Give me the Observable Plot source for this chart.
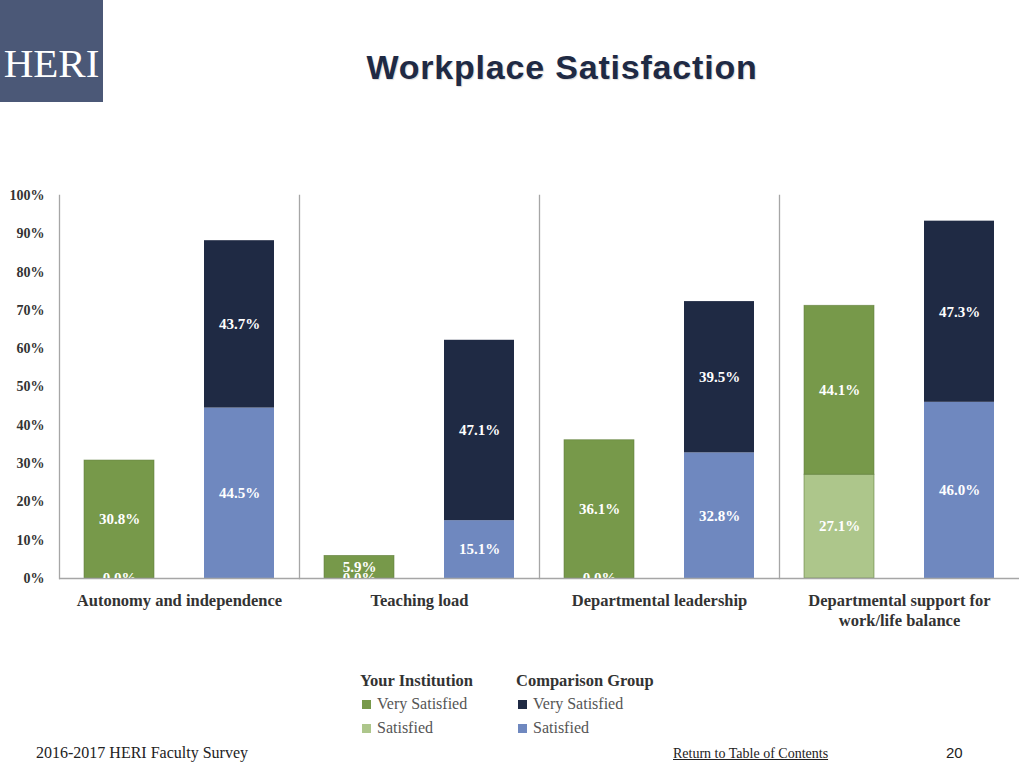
<!DOCTYPE html>
<html>
<head>
<meta charset="utf-8">
<script src="https://cdn.jsdelivr.net/npm/d3@7"></script>
<script src="https://cdn.jsdelivr.net/npm/@observablehq/plot@0.6"></script>
<style>
  html, body { margin: 0; padding: 0; background: #fff; }
  body { width: 1024px; height: 768px; position: relative; overflow: hidden; font-family: "Liberation Serif", serif; }
  #logo { position: absolute; left: 0; top: 0; width: 103px; height: 102px; background: #4b5877; color: #fff;
          font-family: "Liberation Serif", serif; font-size: 41px; line-height: 41px; box-sizing: border-box; padding-top: 43px; text-align: center; }
  #title { position: absolute; left: 0; width: 1124px; top: 48px; text-align: center; font-family: "Liberation Sans", Arial, sans-serif;
           font-weight: bold; font-size: 34px; letter-spacing: 0.8px; color: #1f2a44; text-shadow: 1px 1px 1px rgba(0,0,0,0.15); }
  #chart { position: absolute; left: 0; top: 175px; }
  .legend { position: absolute; top: 670px; font-family: "Liberation Serif", serif; }
  .legend .head { font-weight: bold; font-size: 16.5px; color: #333; height: 22px; line-height: 22px; }
  .legend .item { font-size: 16px; color: #555; height: 24px; display: flex; align-items: center; }
  .legend .sw { width: 9px; height: 9px; margin: 0 6px 0 2px; display: inline-block; }
  #footer-left { position: absolute; left: 36px; top: 744px; font-size: 16px; color: #222; }
  #footer-mid { position: absolute; left: 673px; top: 746px; font-size: 14px; color: #222; text-decoration: underline; }
  #footer-num { position: absolute; left: 946px; top: 744px; font-size: 15px; color: #222; font-family: "Liberation Sans", Arial, sans-serif; }
</style>
</head>
<body>
<div id="logo">HERI</div>
<div id="title">Workplace Satisfaction</div>
<div id="chart"></div>
<div id="legend"></div>
<div id="footer-left">2016-2017 HERI Faculty Survey</div>
<div id="footer-mid">Return to Table of Contents</div>
<div id="footer-num">20</div>
<script>
// ---- Data ----
const categories = [
  "Autonomy and independence",
  "Teaching load",
  "Departmental leadership",
  "Departmental support for\nwork/life balance"
];
const groups = ["Your Institution", "Comparison Group"];
const levels = ["Satisfied", "Very Satisfied"];
const instSatisfied = [0.0, 0.0, 0.0, 27.1];
const instVerySatisfied = [30.8, 5.9, 36.1, 44.1];
const compSatisfied = [44.5, 15.1, 32.8, 46.0];
const compVerySatisfied = [43.7, 47.1, 39.5, 47.3];
const yTicks = [0, 10, 20, 30, 40, 50, 60, 70, 80, 90, 100];

// ---- Build table ----
const rows = [];
categories.forEach((c, i) => {
  rows.push({category: c, group: groups[0], level: levels[0], value: instSatisfied[i]});
  rows.push({category: c, group: groups[0], level: levels[1], value: instVerySatisfied[i]});
  rows.push({category: c, group: groups[1], level: levels[0], value: compSatisfied[i]});
  rows.push({category: c, group: groups[1], level: levels[1], value: compVerySatisfied[i]});
});
rows.forEach(d => d.key = d.group + " | " + d.level);

const keys = [
  "Your Institution | Very Satisfied",
  "Your Institution | Satisfied",
  "Comparison Group | Very Satisfied",
  "Comparison Group | Satisfied"
];
const colors = ["#77994a", "#adc68b", "#1f2a44", "#6f88bf"];
const strokes = {"Your Institution": "#5f7d3a", "Comparison Group": "none"};

const lineColor = "#a6a6a6";

const chart = Plot.plot({
  width: 1024,
  height: 463,
  marginLeft: 59,
  marginRight: 5,
  marginTop: 20,
  marginBottom: 60,
  style: {fontFamily: "'Liberation Serif', serif", background: "transparent", overflow: "visible"},
  fx: {domain: categories, padding: 0, label: null},
  x: {domain: groups, paddingInner: 0.4167, paddingOuter: 0.2083, axis: null},
  y: {domain: [0, 100], label: null},
  color: {domain: keys, range: colors},
  marks: [
    Plot.frame({anchor: "left", stroke: lineColor, strokeWidth: 1.3}),
    Plot.barY(rows, {fx: "category", x: "group", y: "value", z: "key", fill: "key",
      stroke: d => strokes[d.group], strokeWidth: 0.8, strokeOpacity: 0.7}),
    Plot.ruleY([0], {stroke: lineColor, strokeWidth: 1.3}),
    Plot.text(rows, Plot.stackY({fx: "category", x: "group", y: "value", z: "key",
      text: d => d.value.toFixed(1) + "%", fill: "white", fontWeight: "bold", fontSize: 15, clip: true})),
    Plot.axisY({ticks: yTicks, tickFormat: d => d + "%", tickSize: 0, tickPadding: 15,
      fontWeight: "bold", fontSize: 14, fill: "#333", label: null}),
    Plot.axisFx({anchor: "bottom", tickSize: 0, tickPadding: 13, fontWeight: "bold", fontSize: 16.5, lineHeight: 1.22,
      fill: "#333", label: null})
  ]
});
document.getElementById("chart").appendChild(chart);

// ---- Legend ----
const legendCols = [
  {left: 360, head: "Your Institution", items: [["Very Satisfied", colors[0]], ["Satisfied", colors[1]]]},
  {left: 516, head: "Comparison Group", items: [["Very Satisfied", colors[2]], ["Satisfied", colors[3]]]}
];
const legend = document.getElementById("legend");
legendCols.forEach(col => {
  const div = document.createElement("div");
  div.className = "legend";
  div.style.left = col.left + "px";
  let html = `<div class="head">${col.head}</div>`;
  col.items.forEach(([label, c]) => {
    html += `<div class="item"><span class="sw" style="background:${c}"></span>${label}</div>`;
  });
  div.innerHTML = html;
  legend.appendChild(div);
});
</script>
</body>
</html>
